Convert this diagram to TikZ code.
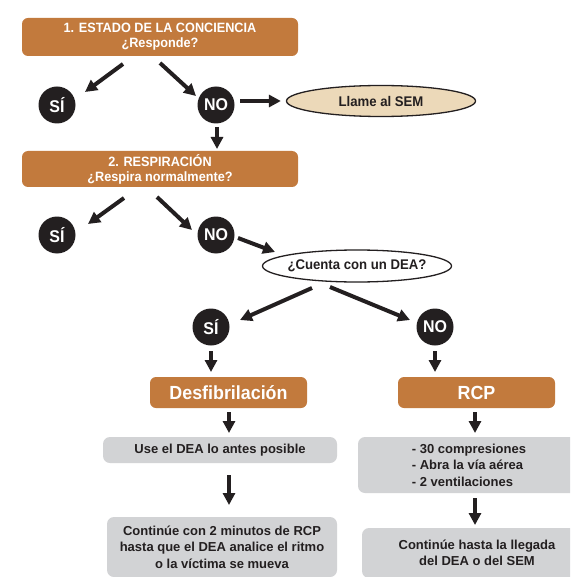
\documentclass[tikz,border=0pt]{standalone}
\usepackage{fontspec}
\setmainfont{Liberation Sans}[FakeStretch=0.94]
\newfontfamily\notefont{Liberation Sans}
\usetikzlibrary{arrows.meta,shapes.geometric}
\definecolor{rust}{HTML}{C27A3D}
\definecolor{panel}{HTML}{D2D3D5}
\definecolor{sand}{HTML}{ECD9B9}
\definecolor{ink}{HTML}{231F20}
\tikzset{
  stage/.style={rectangle, rounded corners=6pt, fill=rust, text=white,
    font=\bfseries\fontsize{13.5}{15}\selectfont, align=center, inner sep=0pt},
  answer/.style={circle, fill=ink, text=white, minimum size=37pt, inner sep=0pt,
    font=\bfseries\fontsize{17}{18}\selectfont},
  query/.style={ellipse, draw=ink, line width=1.3pt, inner sep=0pt,
    text=ink, font=\bfseries\fontsize{14}{16}\selectfont},
  note/.style={rectangle, rounded corners=7pt, fill=panel, text=ink,
    font=\notefont\bfseries\fontsize{13}{16.5}\selectfont, inner sep=0pt},
  arr/.style={draw=ink, line width=4pt, -{Triangle[length=12pt,width=12pt]}},
}
\begin{document}
\begin{tikzpicture}[x=1pt,y=-1pt]
\clip (0,0) rectangle (570,577);
\fill[white] (0,0) rectangle (570,577);

% step 1: consciousness
\node[stage, minimum width=276pt, minimum height=38pt] (b1) at (160,37)
  {1. ESTADO DE LA CONCIENCIA\\¿Responde?};
\node[answer] (si1) at (57,105) {SÍ};
\node[answer] (no1) at (216,105) {NO};
\node[query, fill=sand, minimum width=189pt, minimum height=31pt] (sem) at (381,101) {Llame al SEM};

% step 2: breathing
\node[stage, minimum width=276pt, minimum height=36pt] (b2) at (160,169)
  {2. RESPIRACIÓN\\¿Respira normalmente?};
\node[answer] (si2) at (57,235) {SÍ};
\node[answer] (no2) at (216,235) {NO};
\node[query, fill=white, inner xsep=-4.5pt, minimum width=189pt, minimum height=32pt] (dea) at (357,266) {¿Cuenta con un DEA?};
\node[answer] (si3) at (211,327) {SÍ};
\node[answer] (no3) at (435,327) {NO};

% actions
\node[stage, minimum width=157pt, minimum height=31pt, font=\bfseries\fontsize{19}{20}\selectfont] (desf) at (228.5,392.5) {Desfibrilación};
\node[stage, minimum width=157pt, minimum height=31pt, font=\bfseries\fontsize{19}{20}\selectfont] (rcp) at (476.5,392.5) {RCP};
\node[note, minimum width=234pt, minimum height=26pt] (g1) at (220,450) {Use el DEA lo antes posible};
\node[note, minimum width=230pt, minimum height=60pt, align=center] (g2) at (222,547)
  {Continúe con 2 minutos de RCP\\hasta que el DEA analice el ritmo\\o la víctima se mueva};
\node[note, minimum width=222pt, minimum height=56pt, align=left] (g3) at (469,465)
  {- 30 compresiones\\- Abra la vía aérea\\- 2 ventilaciones};
\node[note, minimum width=230pt, minimum height=50pt, align=center] (g4) at (477,553)
  {Continúe hasta la llegada\\del DEA o del SEM};

% connectors
\draw[arr] ([shift={(-37pt,-27pt)}]b1.center) -- ([shift={(28pt,13pt)}]si1.center);
\draw[arr] ([shift={(0pt,-26pt)}]b1.center) -- ([shift={(-20pt,9pt)}]no1.center);
\draw[arr] ([shift={(24pt,4pt)}]no1.center) -- ([shift={(-5pt,0pt)}]sem.west);
\draw[arr] ([shift={(1pt,-22pt)}]no1.center) -- ([shift={(57pt,20pt)}]b2.center);
\draw[arr] ([shift={(-36pt,-29pt)}]b2.center) -- ([shift={(31pt,11pt)}]si2.center);
\draw[arr] ([shift={(-3pt,-28pt)}]b2.center) -- ([shift={(-24pt,5pt)}]no2.center);
\draw[arr] ([shift={(22pt,-3pt)}]no2.center) -- ([shift={(-82pt,14pt)}]dea.center);
\draw[arr] ([shift={(-45pt,-22pt)}]dea.center) -- ([shift={(29pt,7pt)}]si3.center);
\draw[arr] ([shift={(-27pt,-21pt)}]dea.center) -- ([shift={(-25pt,7pt)}]no3.center);
\draw[arr] ([shift={(0pt,-24pt)}]si3.center) -- ([shift={(-17.5pt,20.5pt)}]desf.center);
\draw[arr] ([shift={(0pt,-24pt)}]no3.center) -- ([shift={(-41.5pt,20.5pt)}]rcp.center);
\draw[arr] ([shift={(0.5pt,-19.5pt)}]desf.center) -- ([shift={(9pt,17pt)}]g1.center);
\draw[arr] ([shift={(9pt,-25pt)}]g1.center) -- ([shift={(7pt,42pt)}]g2.center);
\draw[arr] ([shift={(-1.5pt,-19.5pt)}]rcp.center) -- ([shift={(6pt,32pt)}]g3.center);
\draw[arr] ([shift={(6pt,-33pt)}]g3.center) -- ([shift={(-2pt,28pt)}]g4.center);
\end{tikzpicture}
\end{document}
